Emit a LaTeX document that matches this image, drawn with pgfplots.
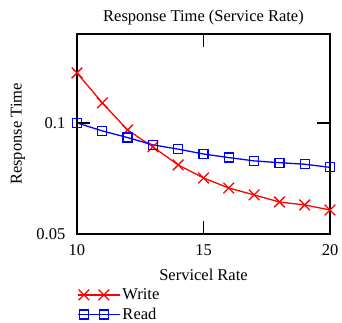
\documentclass[border=0pt]{standalone}
\usepackage{pgfplots}
\pgfplotsset{compat=1.18}
\usepackage{fontspec}
\setmainfont{Liberation Serif}
\begin{document}
\fontsize{16.5}{19.8}\selectfont
\begin{tikzpicture}[x=1pt,y=1pt]
\begin{axis}[
  at={(0,0)}, anchor=south west,
  scale only axis, width=253pt, height=200pt,
  xmin=10, xmax=20, ymin=0.05, ymax=0.14,
  xtick={10,15,20}, ytick={0.05,0.1},
  yticklabels={0.05,0.1},
  tick align=inside, major tick length=13pt,
  tick style={line width=1.3pt, black},
  axis line style={line width=1.3pt},
  /pgf/number format/assume math mode=true,
  ticklabel style={font=\fontsize{16.5}{19.8}\selectfont},
  yticklabel style={xshift=-6pt},
  xticklabel style={yshift=-5pt},
  title={Response Time (Service Rate)},
  title style={font=\fontsize{16.5}{19.8}\selectfont, yshift=-3pt},
  xlabel={Servicel Rate}, ylabel={Response Time},
  label style={font=\fontsize{16.5}{19.8}\selectfont},
  xlabel style={yshift=-2pt},
  ylabel style={yshift=0pt},
  legend style={draw=none, fill=none, at={(0,0)}, anchor=north west,
    xshift=0pt, yshift=-52pt, inner sep=0pt, row sep=2pt,
    font=\fontsize{16.5}{19.8}\selectfont, cells={anchor=west}},
  legend image code/.code={\draw[#1, mark indices={2,3}] plot coordinates {(0pt,0pt) (6pt,0pt) (26pt,0pt) (33pt,0pt)}; \path (0pt,0pt) -- (42pt,0pt);},
  clip=false,
]
\addplot[red, line width=1.3pt, mark=x, mark size=7.5pt, mark options={line width=1.3pt}] coordinates {
(10,0.1225) (11,0.109) (12,0.0968) (13,0.0892) (14,0.0811) (15,0.0752)
(16,0.0707) (17,0.0676) (18,0.0644) (19,0.0631) (20,0.0608)};
\addlegendentry{Write}
\addplot[blue, line width=1.3pt, mark=square, mark size=4.5pt, mark options={line width=1.3pt}] coordinates {
(10,0.1) (11,0.0964) (12,0.0934) (13,0.0901) (14,0.0882) (15,0.086)
(16,0.0844) (17,0.0829) (18,0.0821) (19,0.0814) (20,0.08)};
\addlegendentry{Read}
\end{axis}
\pgfresetboundingbox
\useasboundingbox (-77,-88) rectangle (265,234);
\end{tikzpicture}
\end{document}
